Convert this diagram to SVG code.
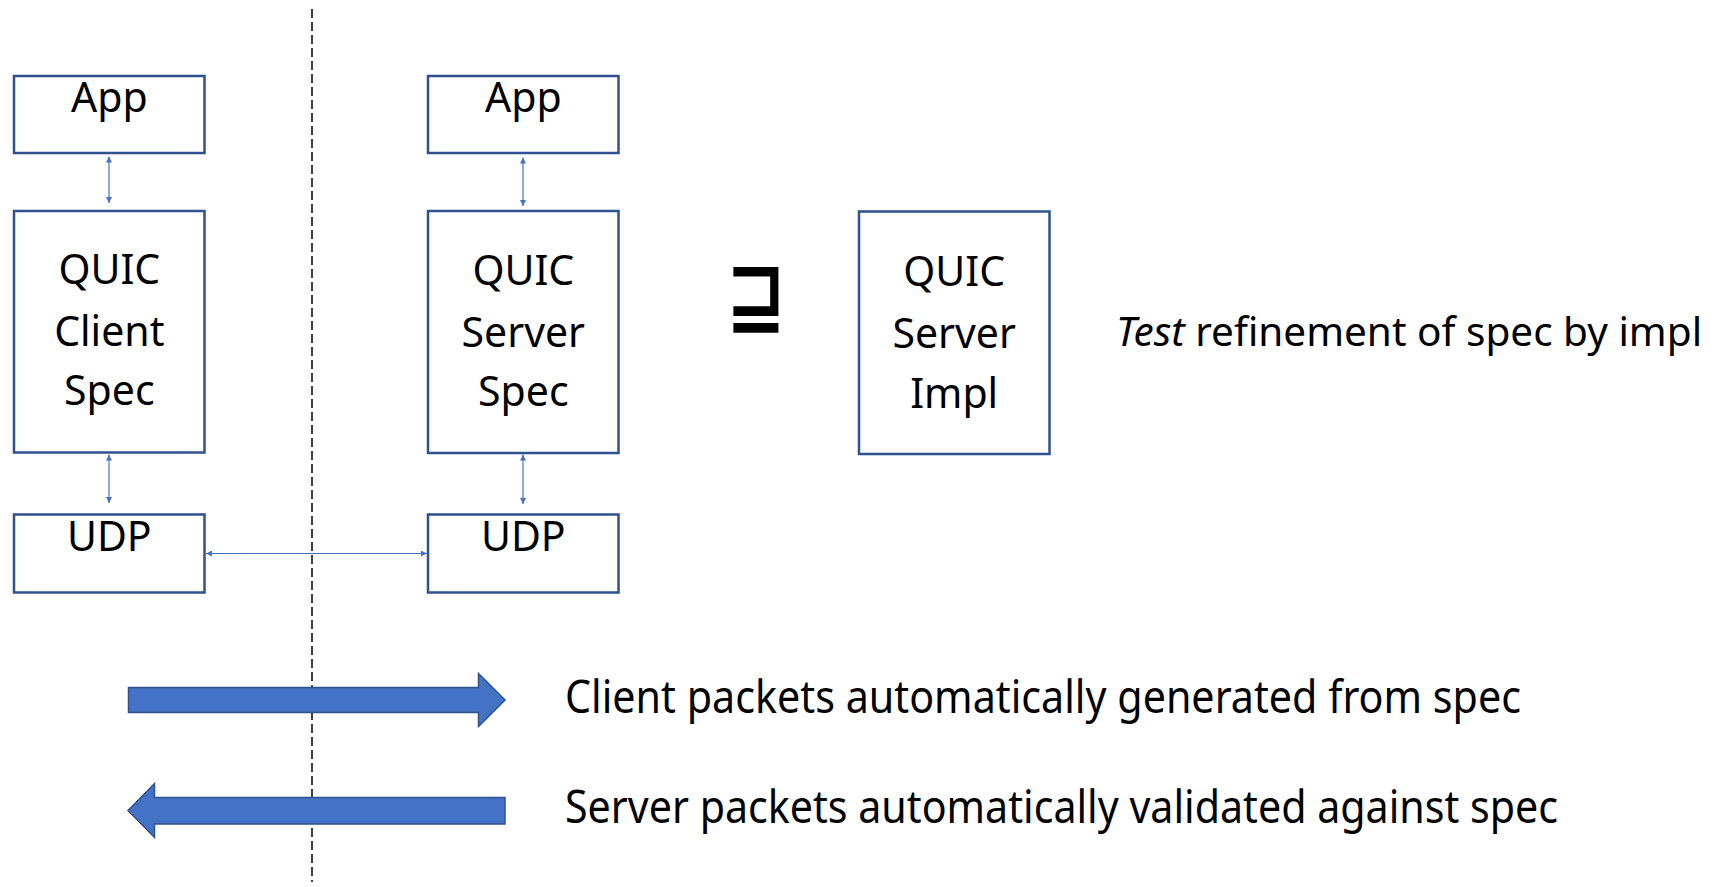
<svg xmlns="http://www.w3.org/2000/svg" width="1729" height="887" viewBox="0 0 1729 887">
  <defs>
    <style>
      .box { fill: #FFFFFF; stroke: #2F528F; stroke-width: 2.5; }
      .lbl { font-family: "Noto Sans", "Open Sans", sans-serif; font-size: 41px; fill: #000000; text-anchor: middle; }
      .big { font-family: "Noto Sans", "Open Sans", sans-serif; font-size: 45px; fill: #000000; }
      .conn { stroke: #4472C4; stroke-width: 1.2; fill: none; marker-start: url(#ah); marker-end: url(#ah); }
      .block { fill: #4472C4; stroke: #2F528F; stroke-width: 1.5; }
    </style>
    <marker id="ah" viewBox="0 0 10 10" refX="10" refY="5" markerWidth="6" markerHeight="6" markerUnits="userSpaceOnUse" orient="auto-start-reverse">
      <path d="M0,0 L10,5 L0,10 z" fill="#4472C4"/>
    </marker>
  </defs>

  <rect width="1729" height="887" fill="#FFFFFF"/>

  <!-- dashed divider -->
  <line x1="312" y1="9" x2="312" y2="882" stroke="#000000" stroke-width="1.5" stroke-dasharray="9 4"/>

  <g id="client-app">
    <rect class="box" x="14" y="76" width="190.5" height="77"/>
    <text class="lbl" x="109.3" y="112">App</text>
  </g>
  <g id="client-spec">
    <rect class="box" x="14" y="211" width="190.5" height="241.5"/>
    <text class="lbl" x="109.3" y="284">QUIC</text>
    <text class="lbl" x="109.3" y="345.5">Client</text>
    <text class="lbl" x="109.3" y="405">Spec</text>
  </g>
  <g id="client-udp">
    <rect class="box" x="14" y="514.5" width="190.5" height="78"/>
    <text class="lbl" x="109.3" y="551">UDP</text>
  </g>

  <g id="server-app">
    <rect class="box" x="428" y="76" width="190.5" height="77"/>
    <text class="lbl" x="523.3" y="112">App</text>
  </g>
  <g id="server-spec">
    <rect class="box" x="428" y="211" width="190.5" height="242"/>
    <text class="lbl" x="523.3" y="285">QUIC</text>
    <text class="lbl" x="523.3" y="346.5">Server</text>
    <text class="lbl" x="523.3" y="405.5">Spec</text>
  </g>
  <g id="server-udp">
    <rect class="box" x="428" y="514.5" width="190.5" height="78"/>
    <text class="lbl" x="523.3" y="551">UDP</text>
  </g>

  <g id="refines-symbol">
    <text transform="translate(756,322.6) scale(1.09,1.28)" x="0" y="0" font-family="DejaVu Sans, sans-serif" font-weight="bold" font-size="66" text-anchor="middle" fill="#000000">⊒</text>
  </g>

  <g id="server-impl">
    <rect class="box" x="859" y="211.5" width="190.5" height="242.5"/>
    <text class="lbl" x="954.2" y="286">QUIC</text>
    <text class="lbl" x="954.2" y="348">Server</text>
    <text class="lbl" x="954.2" y="408">Impl</text>
  </g>

  <g id="refinement-caption">
    <text x="1116" y="346" font-family="Noto Sans, Open Sans, sans-serif" font-size="40.5" fill="#000000"><tspan font-style="italic">Test</tspan> refinement of spec by impl</text>
  </g>

  <g id="connectors">
    <line class="conn" x1="109" y1="156.5" x2="109" y2="203"/>
    <line class="conn" x1="109" y1="454.5" x2="109" y2="503"/>
    <line class="conn" x1="523" y1="157.5" x2="523" y2="206"/>
    <line class="conn" x1="523" y1="454.5" x2="523" y2="504"/>
    <line class="conn" x1="206" y1="553.5" x2="427" y2="553.5"/>
  </g>

  <g id="client-packets-arrow">
    <polygon class="block" points="128.5,687.5 478.5,687.5 478.5,673.5 505,700 478.5,726.5 478.5,712.5 128.5,712.5"/>
    <text class="big" x="565" y="713" textLength="956" lengthAdjust="spacingAndGlyphs">Client packets automatically generated from spec</text>
  </g>

  <g id="server-packets-arrow">
    <polygon class="block" points="128,810.5 154.5,783.5 154.5,797.5 505,797.5 505,824 154.5,824 154.5,837.5"/>
    <text class="big" x="565" y="823" textLength="993" lengthAdjust="spacingAndGlyphs">Server packets automatically validated against spec</text>
  </g>
</svg>
